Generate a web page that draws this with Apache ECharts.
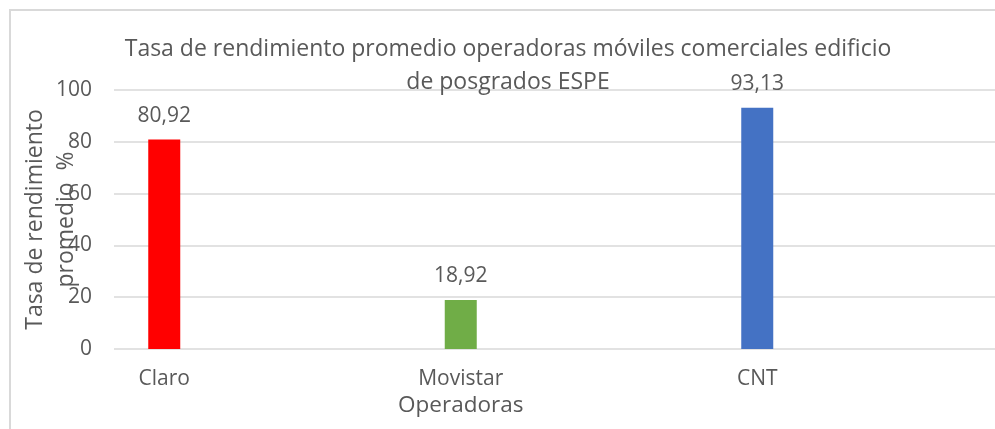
<!DOCTYPE html>
<html>
<head>
<meta charset="utf-8">
<script src="https://cdn.jsdelivr.net/npm/echarts@6/dist/echarts.min.js"></script>
<style>
  html, body { margin: 0; padding: 0; background: #fff; }
  .container { width: 995px; height: 429px; }
</style>
</head>
<body>
<div class="container"></div>
<script>
const categories = ['Claro', 'Movistar', 'CNT']
const values = [80.92, 18.92, 93.13]
const barColors = ['#FF0000', '#70AD47', '#4472C4']
const yTicks = [0, 20, 40, 60, 80, 100]

const FONT = 'Open Sans'
const TEXT = '#595959'
const GRID = '#d9d9d9'

const initEchart = () => {
    let container = document.querySelector('.container')
    let myChart = echarts.init(container, null, { renderer: 'canvas' })

    let option = {
        animation: false,
        backgroundColor: '#fff',
        textStyle: { fontFamily: FONT },
        title: {
            text: 'Tasa de rendimiento promedio operadoras móviles comerciales edificio\nde posgrados ESPE',
            left: 503,
            top: 28,
            textAlign: 'center',
            textStyle: {
                fontFamily: FONT,
                fontSize: 23,
                fontWeight: 'normal',
                color: TEXT,
                lineHeight: 33
            }
        },
        graphic: [{
            type: 'rect',
            shape: { x: 10, y: 10, width: 1000, height: 430 },
            style: { fill: 'none', stroke: GRID, lineWidth: 2 },
            silent: true
        }],
        grid: [
            // gridlines and value labels
            { left: 114, right: 0, top: 90, bottom: 80 },
            // bars and categories
            { left: 16, width: 889.5, top: 90, bottom: 80 }
        ],
        xAxis: [
            { type: 'value', gridIndex: 0, show: false, min: 0, max: 1 },
            {
                type: 'category',
                gridIndex: 1,
                data: categories,
                axisLine: { show: false },
                axisTick: { show: false },
                axisLabel: {
                    margin: 20,
                    fontFamily: FONT,
                    fontSize: 21,
                    color: TEXT
                },
                name: 'Operadoras',
                nameLocation: 'middle',
                nameGap: 45,
                nameMoveOverlap: false,
                nameTextStyle: { fontFamily: FONT, fontSize: 22.5, color: TEXT }
            }
        ],
        yAxis: [
            {
                type: 'value',
                gridIndex: 0,
                min: yTicks[0],
                max: yTicks[yTicks.length - 1],
                interval: 20,
                axisLine: { show: false },
                axisTick: { show: false },
                axisLabel: {
                    margin: 22,
                    fontFamily: FONT,
                    fontSize: 21,
                    color: TEXT
                },
                splitLine: { lineStyle: { color: GRID, width: 1.5 } },
                name: 'Tasa de rendimiento\npromedio  %',
                nameLocation: 'middle',
                nameRotate: 90,
                nameGap: 32,
                nameMoveOverlap: false,
                nameTextStyle: { fontFamily: FONT, fontSize: 23, color: TEXT, lineHeight: 31 }
            },
            { type: 'value', gridIndex: 1, show: false, min: 0, max: 100 }
        ],
        series: [{
            type: 'bar',
            xAxisIndex: 1,
            yAxisIndex: 1,
            barWidth: 32,
            data: values.map((v, i) => ({ value: v, itemStyle: { color: barColors[i] } })),
            label: {
                show: true,
                position: 'top',
                distance: 13,
                fontFamily: FONT,
                fontSize: 21,
                color: TEXT,
                formatter: p => p.value.toFixed(2).replace('.', ',')
            }
        }]
    }

    myChart.setOption(option)
}
initEchart()
</script>
</body>
</html>
